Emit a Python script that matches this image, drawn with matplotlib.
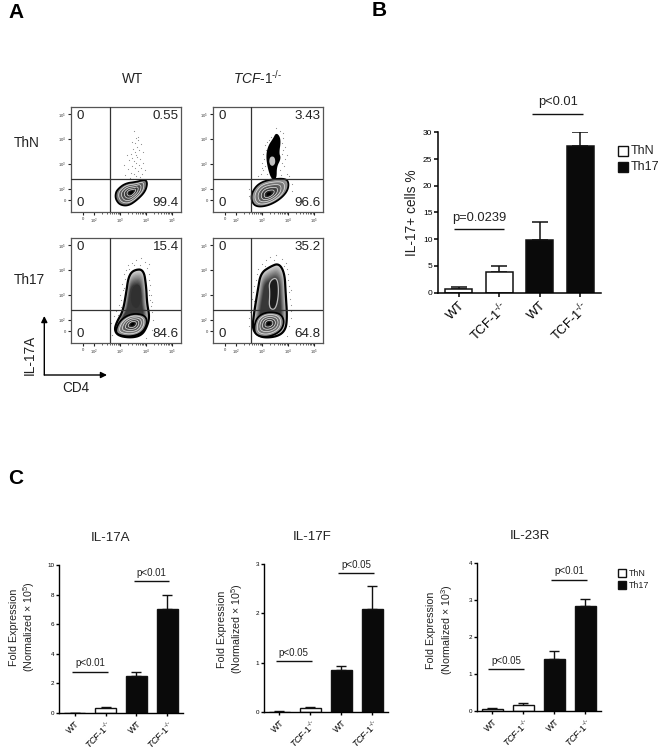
import numpy as np
import matplotlib
matplotlib.use('Agg')
import matplotlib.pyplot as plt
from matplotlib.patches import Polygon, Rectangle

plt.rcParams['font.family'] = ['Liberation Sans', 'DejaVu Sans']
plt.rcParams['mathtext.fontset'] = 'custom'
plt.rcParams['mathtext.rm'] = 'Liberation Sans'
plt.rcParams['mathtext.it'] = 'Liberation Sans:italic'
plt.rcParams['mathtext.bf'] = 'Liberation Sans:bold'

W, H = 661, 750

# ---------- Data ----------
b_labels = [r'WT', r'TCF-1$^{\text{-/-}}$', r'WT', r'TCF-1$^{\text{-/-}}$']
b_values = [0.75, 3.8, 9.8, 27.5]
b_tops = [1.0, 5.0, 13.2, 30.0]
ko_italic = r'$\mathit{TCF}$-$\mathit{1}^{\text{-/-}}$'
c_labels = ['WT', ko_italic, 'WT', ko_italic]
il17a_values = [0.02, 0.35, 2.5, 7.05]
il17a_tops = [0.03, 0.42, 2.75, 8.0]
il17f_values = [0.01, 0.08, 0.85, 2.09]
il17f_tops = [0.015, 0.10, 0.94, 2.56]
il23r_values = [0.05, 0.16, 1.39, 2.83]
il23r_tops = [0.06, 0.20, 1.63, 3.02]

flow_values = [['0', '0.55', '0', '99.4'], ['0', '3.43', '0', '96.6'],
               ['0', '15.4', '0', '84.6'], ['0', '35.2', '0', '64.8']]

# Flow contours: outlines in log10 units (CD4, IL-17A)
wt_thn_lobe = [(2.81,1.74),(2.87,1.95),(3.19,2.22),(3.65,2.28),(3.97,2.38),(4.06,2.22),(3.97,1.88),(3.65,1.54),(3.32,1.31),(3.0,1.34),(2.84,1.54)]
wt_thn_centre = (3.43, 1.85)
ko_thn_lobe = [(2.57,1.54),(2.61,1.88),(2.87,2.22),(3.32,2.38),(3.91,2.42),(4.04,2.22),(3.97,1.88),(3.65,1.54),(3.19,1.30),(2.74,1.27)]
ko_thn_centre = (3.26, 1.78)
ko_thn_plume = [(3.39,2.42),(3.26,2.82),(3.19,3.3),(3.26,3.7),(3.48,4.04),(3.56,4.22),(3.69,3.97),(3.61,3.43),(3.69,3.23),(3.52,2.89),(3.52,2.42)]
ko_thn_core = [(3.3,3.3),(3.48,3.3),(3.52,3.03),(3.39,2.89),(3.26,3.03)]
wt_th17_body = [(2.77,1.58),(2.87,1.92),(3.1,2.32),(3.23,3.07),(3.32,3.74),(3.52,4.01),(3.91,4.04),(4.01,3.34),(4.04,2.66),(4.14,2.12),(4.04,1.72),(3.84,1.38),(3.45,1.27),(2.94,1.34)]
wt_th17_lobe = [(2.81,1.55),(3.0,1.99),(3.45,2.26),(3.97,2.19),(4.06,1.85),(3.84,1.45),(3.39,1.31),(2.94,1.38)]
wt_th17_centre = (3.48, 1.82)
wt_th17_core = [(3.45,3.34),(3.78,3.47),(3.84,2.8),(3.65,2.39),(3.39,2.66)]
ko_th17_body = [(2.61,1.58),(2.68,2.26),(2.83,3.2),(2.94,3.88),(3.32,4.15),(3.65,4.28),(3.87,3.88),(3.91,3.07),(3.97,2.12),(3.91,1.58),(3.58,1.31),(2.94,1.27)]
ko_th17_lobe = [(2.68,1.72),(2.81,2.12),(3.19,2.32),(3.71,2.26),(3.87,1.92),(3.71,1.51),(3.19,1.28),(2.74,1.38)]
ko_th17_centre = (3.26, 1.85)
ko_th17_core = [(3.26,3.54),(3.58,3.74),(3.65,3.07),(3.52,2.39),(3.26,2.46),(3.3,3.07)]

# Outlying events
wt_thn_dots = [(3.52,4.32),(3.62,4.05),(3.7,4.1),(3.45,3.9),(3.58,3.85),(3.8,3.8),(3.65,3.7),(3.5,3.6),(3.72,3.55),(3.88,3.5),
               (3.4,3.42),(3.6,3.38),(3.67,3.3),(3.78,3.2),(3.35,3.15),(3.52,3.1),(3.62,3.02),(3.74,2.95),(3.46,2.9),(3.58,2.82),
               (3.3,2.78),(3.7,2.72),(3.42,2.65),(3.55,2.6),(3.85,2.6),(3.2,2.55),(3.62,2.5),(3.75,2.46),(3.38,2.42),(3.5,2.38),
               (3.9,3.05),(3.25,3.35),(3.95,2.75),(3.15,2.95),(3.68,3.95),(3.44,3.25),(3.82,2.85),(3.58,3.5)]
ko_thn_dots = [(3.55,4.45),(3.8,4.25),(3.35,4.1),(3.82,4.05),(3.25,3.95),(3.75,3.85),(3.1,3.75),(3.9,3.7),(3.15,3.55),(3.82,3.55),
               (3.02,3.4),(3.78,3.42),(3.08,3.2),(3.88,3.2),(3.0,3.05),(3.75,3.05),(3.12,2.9),(3.85,2.9),(3.05,2.75),(3.7,2.75),
               (2.95,2.6),(3.95,2.6),(3.18,2.6),(3.72,2.55),(2.85,2.5),(4.05,2.5),(4.15,2.2),(2.5,1.7),(2.5,2.0),(4.15,1.9),
               (3.2,3.9),(3.68,4.35),(3.0,2.85),(3.95,3.35)]
wt_th17_dots = [(3.62,4.42),(3.8,4.5),(3.45,4.3),(3.95,4.35),(3.3,4.2),(4.1,4.25),(3.22,4.0),(4.05,4.1),(3.15,3.85),(4.12,3.85),
                (3.2,3.65),(4.1,3.6),(3.08,3.45),(4.15,3.4),(3.1,3.2),(4.12,3.2),(3.0,3.0),(4.2,3.0),(3.05,2.8),(4.15,2.8),
                (2.95,2.6),(4.18,2.55),(2.85,2.35),(4.25,2.3),(2.75,2.15),(4.28,2.0),(2.65,1.85),(4.22,1.6),(2.68,1.4),(4.0,1.25),
                (3.55,4.2),(3.75,4.2),(3.15,3.3),(3.03,2.5),(2.92,2.2),(3.35,4.05),(4.1,3.0),(4.22,2.7)]
ko_th17_dots = [(3.3,4.55),(3.55,4.6),(3.75,4.45),(3.15,4.4),(3.92,4.3),(3.0,4.25),(3.98,4.05),(2.85,4.05),(4.0,3.85),(2.78,3.85),
                (4.02,3.6),(2.75,3.6),(4.05,3.35),(2.7,3.35),(4.03,3.1),(2.65,3.1),(4.08,2.85),(2.6,2.85),(4.1,2.6),(2.58,2.6),
                (4.12,2.35),(2.52,2.3),(4.1,2.05),(2.5,2.05),(4.05,1.75),(2.48,1.75),(3.95,1.35),(2.55,1.35),(3.45,4.42),(3.1,4.15),
                (3.85,4.18),(2.9,3.7),(4.1,3.2),(2.68,2.75)]

flow_xticks = [1.56, 2, 3, 4, 5]
flow_xticklabels = ['0', '$10^2$', '$10^3$', '$10^4$', '$10^5$']
flow_yticks = [1.54, 2, 3, 4, 5]
flow_yticklabels = ['0', '$10^2$', '$10^3$', '$10^4$', '$10^5$']

# ---------- Helpers ----------
fig = plt.figure(figsize=(W / 100, H / 100), dpi=100)


def ax_px(l, t, r, b):
    return fig.add_axes([l / W, 1 - b / H, (r - l) / W, (b - t) / H])


def smooth(points, rounds=3):
    p = np.asarray(points, float)
    for _ in range(rounds):
        q = np.roll(p, -1, axis=0)
        p = np.column_stack([0.75 * p + 0.25 * q, 0.25 * p + 0.75 * q]).reshape(-1, 2)
    return p


def scaled(p, centre, f):
    c = np.asarray(centre)
    return c + (p - c) * f


def lobe(ax, outline, centre, edge_gray=0.62, z=2, lw=1.3):
    p = smooth(outline)
    for f, g in zip(np.linspace(1, 0.12, 16), np.linspace(edge_gray, 0.1, 16)):
        ax.add_patch(Polygon(scaled(p, centre, f), closed=True, fc=str(g), ec='none', zorder=z))
    for f in (0.8, 0.62, 0.44, 0.27):
        ax.add_patch(Polygon(scaled(p, centre, f), closed=True, fc='none', ec='#e8e8e8', lw=0.5, zorder=z + 0.1))
    ax.add_patch(Polygon(scaled(p, centre, 0.12), closed=True, fc='black', ec='none', zorder=z + 0.1))
    ax.add_patch(Polygon(p, closed=True, fc='none', ec='black', lw=lw, zorder=z + 0.2))


def body(ax, outline, core, core_gray, z=1.5, ring=None):
    p = smooth(outline)
    c = p.mean(axis=0)
    for f, g in zip(np.linspace(1, 0.62, 12), np.linspace(0.85, 0.22, 12)):
        ax.add_patch(Polygon(scaled(p, c, f), closed=True, fc=str(g), ec='none', zorder=z))
    ax.add_patch(Polygon(p, closed=True, fc='none', ec='black', lw=1.6, zorder=z + 0.2))
    k = smooth(core)
    ax.add_patch(Polygon(k, closed=True, fc=core_gray, ec=ring or 'none', lw=0.9, zorder=z + 0.1))


def flow_panel(box, labels, dots, gate_x, gate_y=2.4):
    ax = ax_px(*box)
    ax.set_xlim(1.09, 5.36)
    ax.set_ylim(1.06, 5.3)
    ax.scatter(*zip(*dots), s=0.7, c='#8a8a8a', linewidths=0, zorder=1)
    ax.axvline(gate_x, color='#333333', lw=0.9, zorder=5)
    ax.axhline(gate_y, color='#333333', lw=0.9, zorder=5)
    ax.set_xticks(flow_xticks, flow_xticklabels, fontsize=3)
    ax.set_yticks(flow_yticks, flow_yticklabels, fontsize=3)
    minor = [d + np.log10(m) for d in (2, 3, 4) for m in range(2, 10)]
    ax.set_xticks(minor, minor=True)
    ax.tick_params(axis='both', which='major', length=2.2, width=0.8, pad=1.5, color='#222222', labelcolor='#333333')
    ax.tick_params(axis='x', which='minor', length=1.2, width=0.5, color='#222222')
    for s in ax.spines.values():
        s.set_color('#555555')
        s.set_linewidth(0.9)
    tl, tr, bl, br = labels
    kw = dict(transform=ax.transAxes, fontsize=9.6, color='#222222', zorder=6)
    ax.text(0.05, 0.91, tl, ha='left', va='center', **kw)
    ax.text(0.98, 0.91, tr, ha='right', va='center', **kw)
    ax.text(0.05, 0.085, bl, ha='left', va='center', **kw)
    ax.text(0.98, 0.085, br, ha='right', va='center', **kw)
    return ax


def bar_panel(box, values, tops, labels, ylim, yticks, cap, tick_fs, label_fs, lw, tick_len):
    ax = ax_px(*box)
    x = np.arange(len(values))
    colors = ['white', 'white', '#0a0a0a', '#0a0a0a']
    ax.bar(x, values, width=0.67, color=colors, edgecolor='#111111', linewidth=lw, zorder=2)
    ax.errorbar(x, values, yerr=[[0] * len(values), np.subtract(tops, values)], fmt='none',
                ecolor='#111111', elinewidth=lw, capsize=cap, capthick=lw, zorder=1)
    ax.set_xlim(-0.5, 3.5)
    ax.set_ylim(0, ylim)
    ax.set_yticks(yticks)
    ax.set_xticks(x)
    ax.set_xticklabels(labels, rotation=45, ha='right', rotation_mode='anchor', fontsize=label_fs)
    ax.tick_params(axis='y', length=tick_len, width=lw, labelsize=tick_fs, pad=1)
    ax.tick_params(axis='x', length=tick_len, width=lw, pad=2)
    for s in ('top', 'right'):
        ax.spines[s].set_visible(False)
    for s in ('left', 'bottom'):
        ax.spines[s].set_linewidth(lw)
    return ax


def sig(ax, x0, x1, y, text, fs, pad):
    ax.plot([x0, x1], [y, y], color='#111111', lw=1.0, clip_on=False, solid_capstyle='butt')
    ax.annotate(text, xy=((x0 + x1) / 2, y), xytext=(0, pad), textcoords='offset points',
                ha='center', va='bottom', fontsize=fs, color='#222222', annotation_clip=False)


# ---------- Panel A ----------
ax = flow_panel((71, 107, 181, 212), flow_values[0], wt_thn_dots, 2.6)
lobe(ax, wt_thn_lobe, wt_thn_centre, edge_gray=0.5)

ax = flow_panel((213, 107, 323, 212), flow_values[1], ko_thn_dots, 2.55)
body(ax, ko_thn_plume, ko_thn_core, '#c0c0c0')
for art in ax.patches[:12]:
    art.set_facecolor('black')
lobe(ax, ko_thn_lobe, ko_thn_centre)

ax = flow_panel((71, 238, 181, 343), flow_values[2], wt_th17_dots, 2.6)
body(ax, wt_th17_body, wt_th17_core, '#303030')
lobe(ax, wt_th17_lobe, wt_th17_centre)

ax = flow_panel((213, 238, 323, 343), flow_values[3], ko_th17_dots, 2.55)
body(ax, ko_th17_body, ko_th17_core, '#1c1c1c', ring='#bdbdbd')
lobe(ax, ko_th17_lobe, ko_th17_centre)

# ---------- Panel B ----------
ax = bar_panel((438.3, 132.3, 600.7, 292.7), b_values, b_tops, b_labels, 30, [0, 5, 10, 15, 20, 25, 30],
               5.8, 6, 9.3, 1.1, 3.2)
ax.set_ylabel('IL-17+ cells %', fontsize=9.9, color='#222222', labelpad=3)
sig(ax, -0.12, 1.12, 11.9, 'p=0.0239', 9.3, 4)
sig(ax, 1.82, 3.07, 33.5, 'p<0.01', 9.3, 4)

# ---------- Panel C ----------
ax = bar_panel((59.3, 565, 182.7, 713), il17a_values, il17a_tops, c_labels, 10, [0, 2, 4, 6, 8, 10],
               3.6, 4.5, 6.4, 1.0, 2.5)
sig(ax, -0.08, 1.09, 2.79, 'p<0.01', 7, 2.5)
sig(ax, 1.91, 3.07, 8.92, 'p<0.01', 7, 2.5)

ax = bar_panel((264, 564, 387.7, 712), il17f_values, il17f_tops, c_labels, 3, [0, 1, 2, 3],
               3.6, 4.5, 6.4, 1.0, 2.5)
sig(ax, -0.12, 1.04, 1.03, 'p<0.05', 7, 2.5)
sig(ax, 1.90, 3.06, 2.81, 'p<0.05', 7, 2.5)

ax = bar_panel((477, 563, 600.7, 710.7), il23r_values, il23r_tops, c_labels, 4, [0, 1, 2, 3, 4],
               3.6, 4.5, 6.4, 1.0, 2.5)
sig(ax, -0.14, 1.02, 1.12, 'p<0.05', 7, 2.5)
sig(ax, 1.89, 3.05, 3.55, 'p<0.01', 7, 2.5)

# ---------- Overlay: letters, headings, arrows, legends ----------
ov = fig.add_axes([0, 0, 1, 1], zorder=10)
ov.set_xlim(0, W)
ov.set_ylim(H, 0)
ov.axis('off')
ov.patch.set_alpha(0)

for s, x, y in (('A', 8, 12), ('B', 372, 11), ('C', 8, 479)):
    ov.text(x, y, s, fontsize=15, fontweight='bold', ha='left', va='center', color='black')

txt = dict(color='#222222', va='center')
ov.text(133, 79, 'WT', fontsize=9.8, ha='center', **txt)
ov.text(258, 78, ko_italic, fontsize=9.8, ha='center', **txt)
ov.text(14, 143, 'ThN', fontsize=9.8, ha='left', **txt)
ov.text(14, 280, 'Th17', fontsize=9.8, ha='left', **txt)
ov.text(30, 355, 'IL-17A', fontsize=9.8, ha='center', rotation=90, **txt)
ov.text(76, 388, 'CD4', fontsize=9.8, ha='center', **txt)
arrow = dict(arrowstyle='-|>', color='black', lw=1.0, mutation_scale=9, shrinkA=0, shrinkB=0)
ov.annotate('', xy=(44.3, 316), xytext=(44.3, 375), arrowprops=arrow)
ov.annotate('', xy=(107, 375), xytext=(44.3, 375), arrowprops=arrow)

for s, x, y in (('IL-17A', 111, 538), ('IL-17F', 312, 537), ('IL-23R', 530, 536)):
    ov.text(x, y, s, fontsize=9.6, ha='center', **txt)
for x1, x2, y, e in ((14, 29, 627, '5'), (221.7, 236.7, 629, '5'), (431, 446.7, 630, '3')):
    ov.text(x1, y, 'Fold Expression', fontsize=7.7, ha='center', rotation=90, **txt)
    ov.text(x2, y, '(Normalized × 10$^{%s}$)' % e, fontsize=7.7, ha='center', rotation=90, **txt)

for (x, y, sz, face, label, fs, tx) in ((618, 146, 9.5, 'white', 'ThN', 9, 631), (618, 162, 9.5, '#0a0a0a', 'Th17', 9, 631),
                                        (618, 569, 8, 'white', 'ThN', 6.4, 629), (618, 581, 8, '#0a0a0a', 'Th17', 6.4, 629)):
    ov.add_patch(Rectangle((x, y), sz, sz, fc=face, ec='#111111', lw=1.0))
    ov.text(tx, y + sz / 2, label, fontsize=fs, ha='left', **txt)

fig.savefig('out.png', dpi=100, facecolor='white')
